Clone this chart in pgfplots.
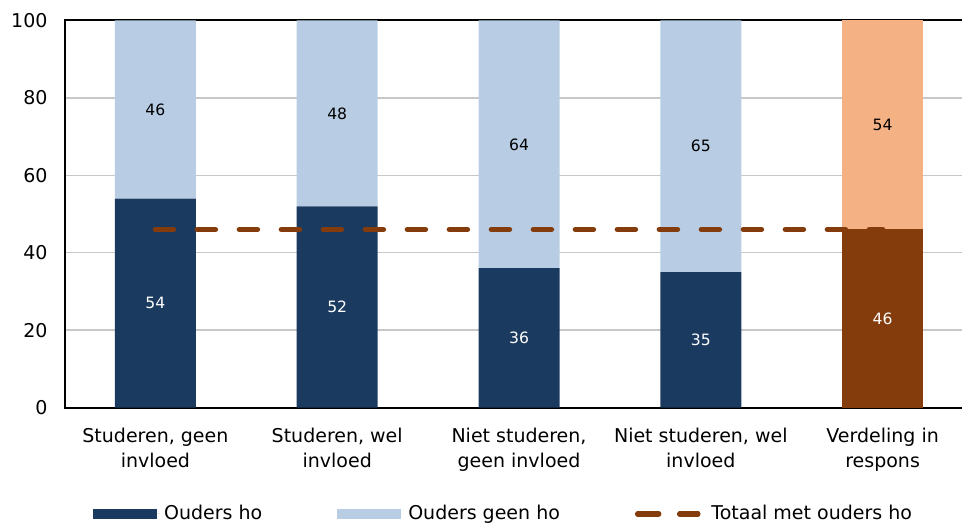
\documentclass[border=0pt]{standalone}
\usepackage{fontspec}
\setmainfont{DejaVu Sans}
\usepackage{pgfplots}
\pgfplotsset{compat=1.18}
\definecolor{navy}{HTML}{1B3A5F}
\definecolor{lightblue}{HTML}{B8CCE4}
\definecolor{brownd}{HTML}{843C0C}
\definecolor{orangel}{HTML}{F4B183}
\pgfplotsset{barlab/.style={point meta=explicit,
  nodes near coords={\pgfmathfloatifflags{\pgfplotspointmeta}{0}{}{\pgfmathprintnumber{\pgfplotspointmeta}}},
  every node near coord/.append style={font=\fontsize{7.8}{9}\selectfont, text=#1}}}
\begin{document}
\begin{tikzpicture}
\begin{axis}[
  set layers,
  at={(32.25pt,59.25pt)}, anchor=south west,
  scale only axis, width=454.5pt, height=193.5pt,
  ybar stacked, bar width=40.5pt,
  xmin=-0.5, xmax=4.5, ymin=0, ymax=100,
  xtick={0,1,2,3,4},
  xticklabels={{Studeren, geen\\invloed},{Studeren, wel\\invloed},{Niet studeren,\\geen invloed},{Niet studeren, wel\\invloed},{Verdeling in\\respons}},
  ytick={0,20,40,60,80,100},
  major tick length=0pt,
  ymajorgrids, grid style={line width=0.75pt, color=black!22},
  axis line style={line width=1pt},
  tick label style={font=\fontsize{9.5}{12.5}\selectfont},
  /pgf/number format/assume math mode=true,
  xticklabel style={align=center, yshift=-6.5pt},
  yticklabel style={xshift=-5pt},
  legend columns=3,
  legend style={draw=none, fill=none, at={(0.031,-0.275)}, anchor=west,
    font=\fontsize{9.5}{12}\selectfont, inner xsep=0pt,
    /tikz/every even column/.append style={column sep=35.5pt}},
]
\addplot[fill=navy, draw=none, barlab=white,
  legend image code/.code={\fill[navy] (0pt,-2.4pt) rectangle (32pt,2.4pt); \path (0pt,0pt) -- (33.5pt,0pt);}]
  coordinates {(0,54)[54] (1,52)[52] (2,36)[36] (3,35)[35] (4,0)[0]};
\addlegendentry{Ouders ho}
\addplot[fill=brownd, draw=none, forget plot, barlab=white]
  coordinates {(0,0)[0] (1,0)[0] (2,0)[0] (3,0)[0] (4,46)[46]};
\addplot[fill=lightblue, draw=none, barlab=black,
  legend image code/.code={\fill[lightblue] (0pt,-2.4pt) rectangle (32pt,2.4pt); \path (0pt,0pt) -- (33.5pt,0pt);}]
  coordinates {(0,46)[46] (1,48)[48] (2,64)[64] (3,65)[65] (4,0)[0]};
\addlegendentry{Ouders geen ho}
\addplot[fill=orangel, draw=none, forget plot, barlab=black]
  coordinates {(0,0)[0] (1,0)[0] (2,0)[0] (3,0)[0] (4,54)[54]};
\addplot[stack plots=false, sharp plot, on layer=axis foreground, color=brownd, line width=2.75pt, line cap=round,
  dash pattern=on 9pt off 12pt,
  legend image code/.code={\draw[brownd, line width=2.75pt, line cap=round, dash pattern=on 9pt off 12pt] (1.5pt,0pt) -- (30pt,0pt); \path (0pt,0pt) -- (33.5pt,0pt);}]
  coordinates {(0,46) (4,46)};
\addlegendentry{Totaal met ouders ho}
\end{axis}
\pgfresetboundingbox
\path[use as bounding box] (0,0) rectangle (481pt,263pt);
\end{tikzpicture}
\end{document}
